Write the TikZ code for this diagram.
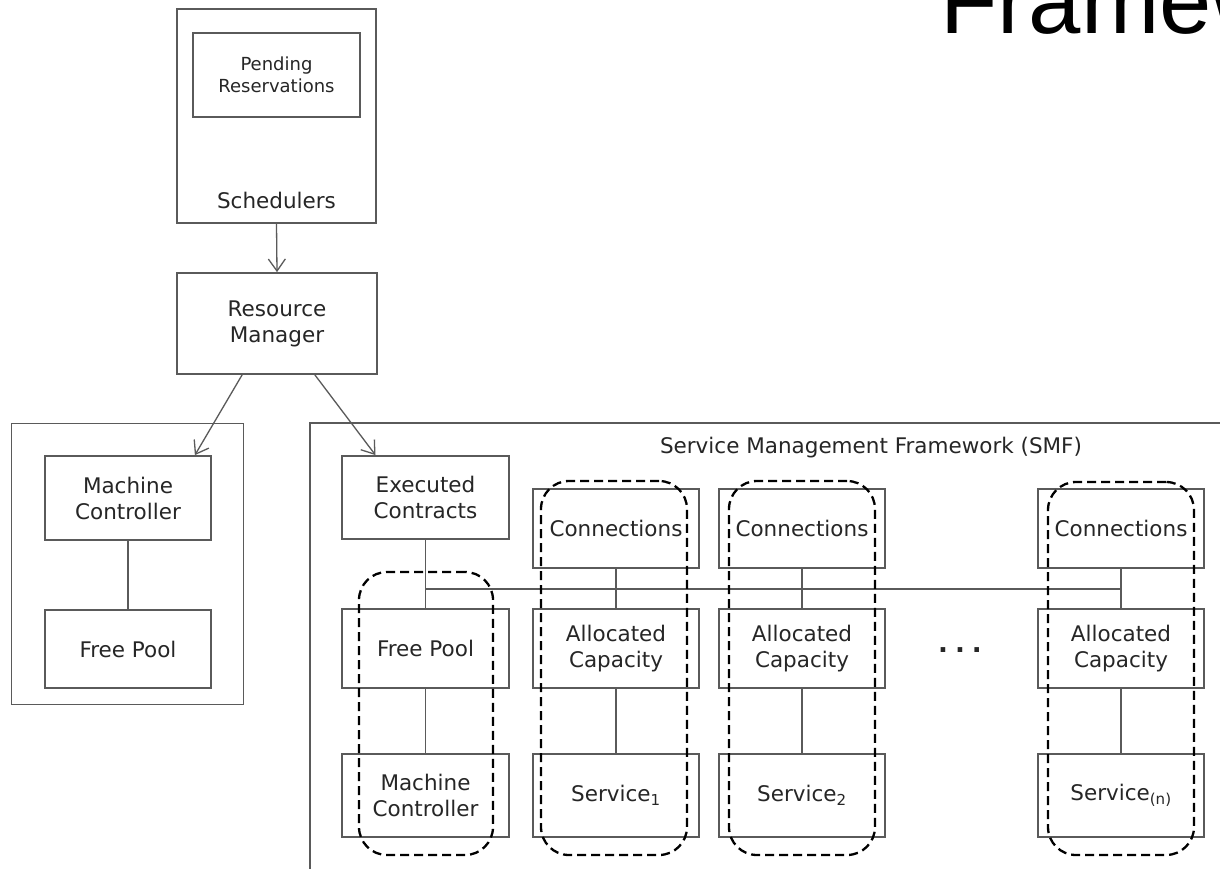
\documentclass[tikz,border=0pt]{standalone}
\usepackage{fontspec}
\setmainfont{DejaVu Sans}
\newfontfamily\bigfont{Liberation Sans}
\usetikzlibrary{arrows.meta}
\definecolor{linegray}{HTML}{5A5A5A}
\definecolor{txtgray}{HTML}{262626}
\begin{document}
\begin{tikzpicture}[x=1pt,y=-1pt,
  box/.style={draw=linegray, line width=1.8pt, inner sep=0pt, align=center,
    text=txtgray, font=\fontsize{21.5}{26}\selectfont},
  cbox/.style={box, minimum width=166pt, minimum height=#1},
  txt/.style={inner sep=0pt, align=center, text=txtgray, font=\fontsize{21.5}{26}\selectfont},
  link/.style={draw=linegray, line width=1.6pt},
  arr/.style={draw=linegray, line width=1.3pt, -{Straight Barb[length=12pt,width=17pt,line width=1.3pt]}},
  grp/.style={draw=black, line width=2.3pt, dash pattern=on 9pt off 5pt,
    rounded corners=28pt, inner sep=0pt, minimum width=#1},
]
\useasboundingbox (0,0) rectangle (1220,868);
\fill[white] (0,0) rectangle (1220,868);

% big title fragment
\node[anchor=base west, inner sep=0pt, font=\bigfont\fontsize{94}{94}\selectfont] (bigt) at (940,33) {Framew};

% schedulers
\node[box, minimum width=199pt, minimum height=214pt] (sched) at (276.5,116) {};
\node[box, minimum width=167pt, minimum height=84pt, font=\fontsize{18}{22}\selectfont] (pend) at (276.5,75) {Pending\\Reservations};
\node[txt] (schedl) at (276.5,200) {Schedulers};

% resource manager
\node[box, minimum width=200pt, minimum height=101pt] (rm) at (277,323.5) {Resource\\Manager};
\draw[arr] (sched.south) -- (rm.north);

% left container
\node[box, minimum width=232pt, minimum height=281pt] (leftc) at (127.5,564) {};
\node[cbox=84pt] (mc1) at (128,498) {Machine\\Controller};
\node[cbox=78pt] (fp1) at (128,649) {Free Pool};
\draw[link] (mc1.south) -- (fp1.north);

% SMF container (cropped)
\coordinate (smfR) at (1222,423);
\coordinate (smfTL) at (310,423);
\coordinate (smfB) at (310,870);
\draw[link, line width=1.8pt] (smfR) -- (smfTL) -- (smfB);
\node[txt] (smft) at (871,448) {Service Management Framework (SMF)};

% column 0
\node[cbox=83pt, minimum width=167pt] (ec) at (425.5,497.5) {Executed\\Contracts};
\node[cbox=79pt, minimum width=167pt] (fp2) at (425.5,648.5) {Free Pool};
\node[cbox=83pt, minimum width=167pt] (mc2) at (425.5,795.5) {Machine\\Controller};

% arrows from RM
\draw[arr] ([xshift=66pt]rm.south west) -- ([xshift=-17pt]mc1.north east);
\draw[arr] ([xshift=-63pt]rm.south east) -- ([xshift=-50pt]ec.north);

% column 1
\node[cbox=79pt] (conn1) at (616,528.5) {Connections};
\node[cbox=79pt] (ac1) at (616,648.5) {Allocated\\Capacity};
\node[cbox=83pt] (s1) at (616,795.5) {Service\textsubscript{1}};

% column 2
\node[cbox=79pt] (conn2) at (802,528.5) {Connections};
\node[cbox=79pt] (ac2) at (802,648.5) {Allocated\\Capacity};
\node[cbox=83pt] (s2) at (802,795.5) {Service\textsubscript{2}};

% column n
\node[cbox=79pt] (connn) at (1121,528.5) {Connections};
\node[cbox=79pt] (acn) at (1121,648.5) {Allocated\\Capacity};
\node[cbox=83pt] (sn) at (1121,795.5) {Service\textsubscript{(n)}};

\node[txt, font=\bfseries\fontsize{26}{30}\selectfont] (dots) at (960,650) {.\hspace{7pt}.\hspace{7pt}.};

% links
\coordinate (busL) at (425.5,589);
\coordinate (busR) at (1121,589);
\draw[link] (ec.south) -- (fp2.north);
\draw[link] (busL) -- (busR);
\draw[link] (fp2.south) -- (mc2.north);
\draw[link] (conn1.south) -- (ac1.north);
\draw[link] (ac1.south) -- (s1.north);
\draw[link] (conn2.south) -- (ac2.north);
\draw[link] (ac2.south) -- (s2.north);
\draw[link] (connn.south) -- (acn.north);
\draw[link] (acn.south) -- (sn.north);

% dashed groups
\node[grp=134pt, minimum height=283pt] (g0) at (426,713.5) {};
\node[grp=146pt, minimum height=374pt] (g1) at (614,668) {};
\node[grp=146pt, minimum height=374pt] (g2) at (802,668) {};
\node[grp=146pt, minimum height=373pt] (gn) at (1121,668.5) {};
\end{tikzpicture}
\end{document}
